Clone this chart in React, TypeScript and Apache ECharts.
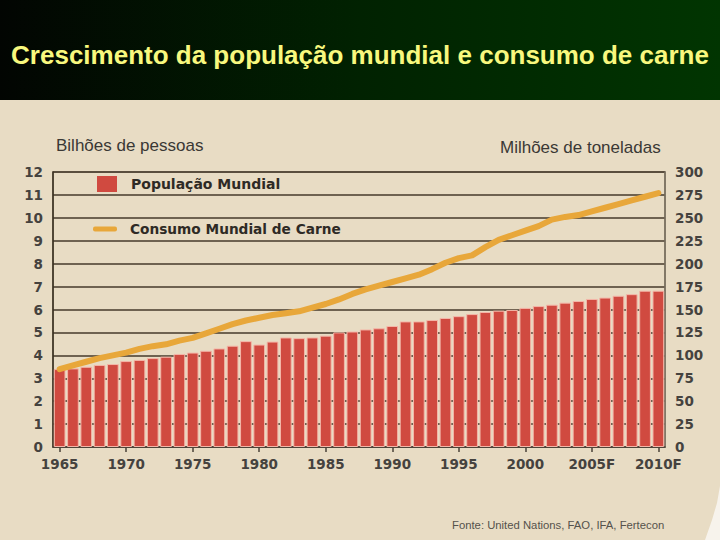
import React, { useEffect, useRef } from "react";
import * as echarts from "echarts";

const years: string[] = [
  "1965","1966","1967","1968","1969","1970","1971","1972","1973","1974",
  "1975","1976","1977","1978","1979","1980","1981","1982","1983","1984",
  "1985","1986","1987","1988","1989","1990","1991","1992","1993","1994",
  "1995","1996","1997","1998","1999","2000","2001","2002","2003","2004",
  "2005F","2006F","2007F","2008F","2009F","2010F",
];

// Billions of people
const population: number[] = [
  3.40, 3.43, 3.50, 3.58, 3.62, 3.75, 3.80, 3.88, 3.94, 4.06,
  4.12, 4.20, 4.30, 4.42, 4.62, 4.47, 4.60, 4.78, 4.75, 4.78,
  4.86, 5.00, 5.04, 5.13, 5.18, 5.28, 5.48, 5.48, 5.54, 5.63,
  5.71, 5.80, 5.89, 5.95, 5.98, 6.07, 6.15, 6.21, 6.30, 6.37,
  6.46, 6.52, 6.60, 6.67, 6.82, 6.82,
];

// Millions of tonnes
const meat: number[] = [
  85, 89, 93, 97, 100, 103, 107, 110, 112, 116,
  119, 124, 129, 134, 138, 141, 144, 146, 148, 152,
  156, 161, 167, 172, 176, 180, 184, 188, 194, 201,
  206, 209, 218, 226, 231, 236, 241, 248, 251, 253,
  257, 261, 265, 269, 273, 277,
];

const leftTicks = { min: 0, max: 12, interval: 1 };
const rightTicks = { min: 0, max: 300, interval: 25 };

const TITLE = "Crescimento da população mundial e consumo de carne";
const LEFT_NAME = "Bilhões de pessoas";
const RIGHT_NAME = "Milhões de toneladas";
const SERIES_POP = "População Mundial";
const SERIES_MEAT = "Consumo Mundial de Carne";
const SOURCE = "Fonte: United Nations, FAO, IFA, Fertecon";

const RED = "#d04a40";
const ORANGE = "#e8a73a";
const LABEL_FONT = "'DejaVu Sans', Verdana, sans-serif";
const SANS = "'Liberation Sans', Arial, Helvetica, sans-serif";

export default function App() {
  const ref = useRef<HTMLDivElement>(null);

  useEffect(() => {
    document.body.style.margin = "0";
    if (!ref.current) return;
    const chart = echarts.init(ref.current, undefined, { renderer: "svg" });

    const axisLabelStyle = {
      fontFamily: LABEL_FONT,
      fontWeight: "bold" as const,
      fontSize: 13.5,
      color: "#45423e",
    };

    chart.setOption({
      animation: false,
      backgroundColor: "#e8dcc4",
      grid: {
        left: 53,
        right: 55,
        top: 172,
        bottom: 93,
        show: true,
        borderColor: "#7b7262",
        borderWidth: 1.5,
        backgroundColor: "transparent",
      },
      xAxis: {
        type: "category",
        data: years,
        boundaryGap: true,
        axisLine: { show: true, lineStyle: { color: "#4a4238", width: 1.5 } },
        axisTick: {
          show: true,
          interval: 4,
          alignWithLabel: true,
          length: 5,
          lineStyle: { color: "#4a4238", width: 1.5 },
        },
        axisLabel: { ...axisLabelStyle, interval: 4, margin: 10 },
        splitLine: { show: false },
      },
      yAxis: [
        {
          type: "value",
          min: leftTicks.min,
          max: leftTicks.max,
          interval: leftTicks.interval,
          axisLine: { show: true, lineStyle: { color: "#3a3020", width: 1.5 } },
          axisTick: { show: false },
          axisLabel: { ...axisLabelStyle, margin: 10 },
          splitLine: { show: true, lineStyle: { color: "#463a2b", width: 1.6 } },
        },
        {
          type: "value",
          min: rightTicks.min,
          max: rightTicks.max,
          interval: rightTicks.interval,
          position: "right",
          axisLine: { show: true, lineStyle: { color: "#7b7262", width: 1.5 } },
          axisTick: { show: false },
          axisLabel: { ...axisLabelStyle, margin: 10 },
          splitLine: { show: false },
        },
      ],
      series: [
        {
          name: SERIES_POP,
          type: "bar",
          data: population,
          yAxisIndex: 0,
          barCategoryGap: "12%",
          itemStyle: { color: RED, borderColor: "#f4b6a8", borderWidth: 1 },
          z: 2,
        },
        {
          name: SERIES_MEAT,
          type: "line",
          data: meat,
          yAxisIndex: 1,
          showSymbol: false,
          symbol: "none",
          lineStyle: { color: ORANGE, width: 6, cap: "round", join: "round" },
          itemStyle: { color: ORANGE },
          z: 5,
        },
      ],
      graphic: [
        {
          type: "rect",
          left: 0,
          top: 0,
          shape: { width: 720, height: 100 },
          style: {
            fill: new echarts.graphic.LinearGradient(0, 0, 1, 0, [
              { offset: 0, color: "#020502" },
              { offset: 0.5, color: "#012201" },
              { offset: 1, color: "#013501" },
            ]),
          },
          z: 0,
        },
        {
          type: "text",
          x: 360,
          y: 55,
          style: {
            text: TITLE,
            fill: "#f8f87e",
            font: `bold 26px ${SANS}`,
            align: "center",
            verticalAlign: "middle",
          },
          z: 10,
        },
        {
          type: "text",
          x: 56,
          y: 145,
          style: {
            text: LEFT_NAME,
            fill: "#3a3835",
            font: `17px ${SANS}`,
            verticalAlign: "middle",
          },
        },
        {
          type: "text",
          x: 500,
          y: 147,
          style: {
            text: RIGHT_NAME,
            fill: "#3a3835",
            font: `17px ${SANS}`,
            verticalAlign: "middle",
          },
        },
        {
          type: "rect",
          shape: { x: 97, y: 176, width: 20, height: 16 },
          style: { fill: RED },
          z: 10,
        },
        {
          type: "text",
          x: 131,
          y: 184,
          style: {
            text: SERIES_POP,
            fill: "#2e2a25",
            font: `bold 14px ${LABEL_FONT}`,
            verticalAlign: "middle",
          },
          z: 10,
        },
        {
          type: "rect",
          shape: { x: 93, y: 226.5, width: 24, height: 5, r: 2 },
          style: { fill: ORANGE },
          z: 10,
        },
        {
          type: "text",
          x: 130,
          y: 229,
          style: {
            text: SERIES_MEAT,
            fill: "#2e2a25",
            font: `bold 13.7px ${LABEL_FONT}`,
            verticalAlign: "middle",
          },
          z: 10,
        },
        {
          type: "text",
          x: 452,
          y: 525,
          style: {
            text: SOURCE,
            fill: "#55524c",
            font: `11.3px ${SANS}`,
            verticalAlign: "middle",
          },
        },
        {
          type: "polygon",
          shape: {
            points: [
              [720, 486],
              [717, 503],
              [712, 520],
              [705, 540],
              [720, 540],
            ],
          },
          style: { fill: "#f7f3ec" },
        },
      ],
    });

    return () => chart.dispose();
  }, []);

  return <div ref={ref} style={{ width: 720, height: 540 }} />;
}
